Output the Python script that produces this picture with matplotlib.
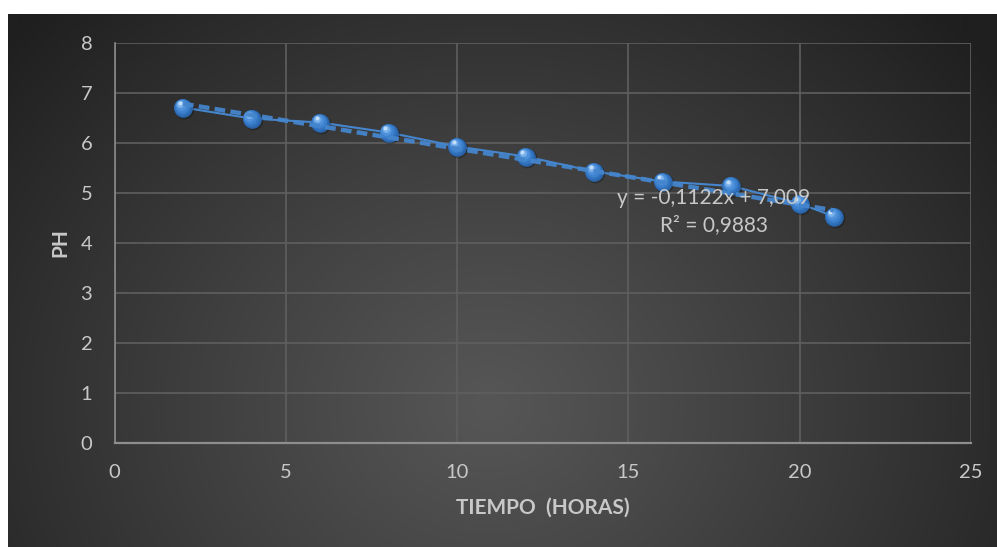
import numpy as np
import matplotlib
matplotlib.use("Agg")
import matplotlib.pyplot as plt
import matplotlib.transforms as mtransforms

# pH readings over time
horas = [2, 4, 6, 8, 10, 12, 14, 16, 18, 20, 21]
ph = [6.71, 6.49, 6.41, 6.21, 5.93, 5.73, 5.43, 5.23, 5.14, 4.79, 4.53]

# linear trendline shown on the chart
pendiente = -0.1122
intercepto = 7.009
r2 = 0.9883

x_ticks = [0, 5, 10, 15, 20, 25]
y_ticks = [0, 1, 2, 3, 4, 5, 6, 7, 8]

FONT = ["Lato", "DejaVu Sans"]
TXT = "#c8c8c8"

W, H = 997, 547
fig = plt.figure(figsize=(W / 100, H / 100), dpi=100, facecolor="white")

# dark radial-gradient chart area
bg = fig.add_axes([8 / W, 0, (W - 8) / W, (H - 14) / H])
bg.set_axis_off()
gw, gh = W - 8, H - 14
yy, xx = np.mgrid[0:gh, 0:gw]
cx, cy = 480, 390
r = np.sqrt((xx - cx) ** 2 + ((yy - cy) * 1.15) ** 2)
t = np.clip(r / 640, 0, 1) ** 1.1
val = (0x56 - (0x56 - 0x1f) * t) / 255.0
img = np.dstack([val, val, val])
bg.imshow(img, extent=[0, gw, gh, 0], aspect="auto", interpolation="bilinear")
bg.set_xlim(0, gw)
bg.set_ylim(gh, 0)

# plot area
x0, x1 = 114.5, 971
y_top, y_bot = 43, 443
ax = fig.add_axes([x0 / W, (H - y_bot) / H, (x1 - x0) / W, (y_bot - y_top) / H])
ax.set_facecolor("none")
ax.set_xlim(0, 25)
ax.set_ylim(0, 8)
ax.set_xticks(x_ticks)
ax.set_yticks(y_ticks)
ax.grid(True, color="#5f5f5f", linewidth=1.2)
ax.set_axisbelow(True)
for s in ["top", "right"]:
    ax.spines[s].set_visible(False)
ax.spines["left"].set_color("#8a8a8a")
ax.spines["left"].set_linewidth(1.2)
ax.spines["bottom"].set_color("#8e8e8e")
ax.spines["bottom"].set_linewidth(1.6)
ax.tick_params(length=0, colors=TXT, labelsize=14.5)
ax.tick_params(axis="y", pad=16)
ax.tick_params(axis="x", pad=15)
for lab in ax.get_xticklabels() + ax.get_yticklabels():
    lab.set_family(FONT)

ax.set_xlabel("TIEMPO  (HORAS)", color=TXT, fontsize=15, fontweight="bold",
              family=FONT, labelpad=12)
ax.set_ylabel("PH", color=TXT, fontsize=15, fontweight="bold",
              family=FONT, labelpad=7)

# data series line
ax.plot(horas, ph, color="#4585cc", linewidth=1.5, zorder=3, solid_capstyle="round")

# spherical markers: shadow, body and highlight layers
def shifted(dx, dy):
    return mtransforms.offset_copy(ax.transData, fig=fig, x=dx, y=dy, units="points")

ax.scatter(horas, ph, s=200, color="black", alpha=0.25, linewidths=0,
           transform=shifted(0.9, -1.3), zorder=4)
ax.scatter(horas, ph, s=180, color="#2a64aa", linewidths=0, zorder=5)
layers = [(145, "#3272bd", 0.5, 0.5), (102, "#3d82cf", 1.0, 1.1),
          (60, "#4f92db", 1.5, 1.8), (26, "#78b0ea", 2.1, 2.5),
          (8, "#c4def8", 2.5, 3.2)]
for size, col, dx, dy in layers:
    ax.scatter(horas, ph, s=size, color=col, linewidths=0,
               transform=shifted(-dx, dy), zorder=6)

# linear trendline from the fitted equation
xt = np.array([min(horas), max(horas)])
ax.plot(xt, pendiente * xt + intercepto, color="#4585cc", linewidth=3.2,
        dashes=(2.4, 1.2), zorder=7, alpha=0.95)

ax.text(17.5, 4.9, f"y = {pendiente:.4f}x + {intercepto:.3f}".replace(".", ","),
        color=TXT, fontsize=15, family=FONT, ha="center", va="center", zorder=8)
ax.text(17.5, 4.35, f"R\u00b2 = {r2:.4f}".replace(".", ","),
        color=TXT, fontsize=15, family=FONT, ha="center", va="center", zorder=8)

fig.savefig("out.png", dpi=100, facecolor="white")
